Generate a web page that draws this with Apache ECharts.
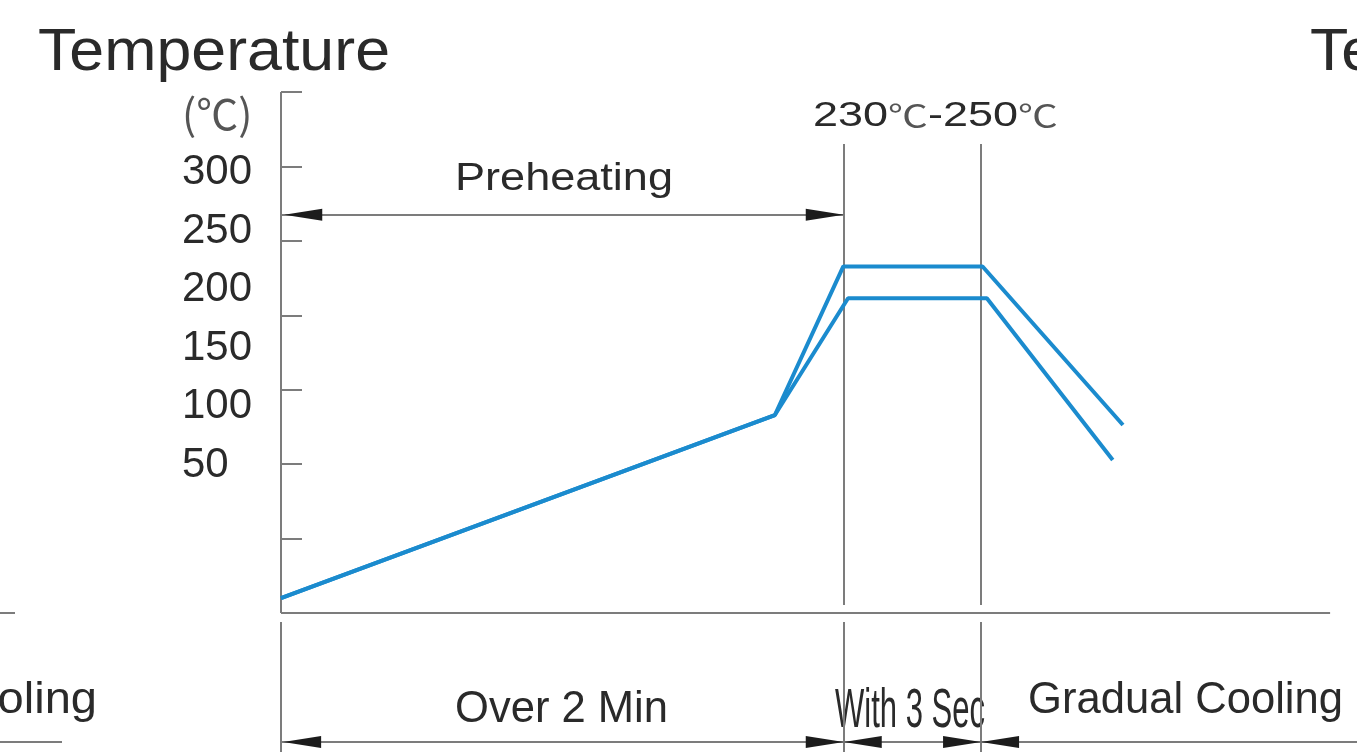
<!DOCTYPE html>
<html><head><meta charset="utf-8">
<script src="https://cdn.jsdelivr.net/npm/echarts@6/dist/echarts.min.js"></script>
<style>html,body{margin:0;padding:0;background:#fff}#c{width:1357px;height:752px}</style>
</head><body><div id="c"></div>
<script>
// ---- data (time in arbitrary units 0-100, temperature on drawn tick scale) ----
const upperTime = [0, 45.9, 52.26, 65.2, 78.25];
const upperTemp = [10, 133, 232.8, 232.8, 126.3];
const lowerTime = [0, 45.9, 52.7, 65.6, 77.3];
const lowerTemp = [10, 133, 211.4, 211.4, 102.8];
const phaseBounds = [0, 52.3, 65.06, 100];       // start, end preheat, end soldering, right edge
const axisEndTime = 97.5;
const tickValues = [50, 100, 150, 200, 250, 300, 350];
const labelValues = [50, 100, 150, 200, 250, 300, 350];
const labelTexts = ['50', '100', '150', '200', '250', '300', '(℃)'];
const guideTop = 315, guideAbove = 5.4, guideBelow = -6, bottomEdge = -93.4;
const preheatArrowTemp = 267.5;
const timeArrowTemp = -86.7;
const titleText = 'Temperature';
const peakText = '230℃-250℃';
const phaseTexts = ['Preheating', 'Over 2 Min', 'With 3 Sec', 'Gradual Cooling'];

const BLUE = '#1b8bce', GRAY = '#7c7c7c', DARK = '#1c1c1c', TXT = '#2a2a2a', THIN = '#555';
const FAM = '"Liberation Sans", Arial, sans-serif';
const CJK = '"Noto Sans CJK SC", sans-serif';

const chart = echarts.init(document.getElementById('c'), null, {renderer: 'canvas'});
const zip = (a, b) => a.map((v, i) => [v, b[i]]);

function seg(x1, y1, x2, y2, color, width) {
  return [{coord: [x1, y1], lineStyle: {color: color || GRAY, width: width || 2, type: 'solid'}},
          {coord: [x2, y2]}];
}
const AH = 38, AW = 12;
function head(x, y, dir) { // dir: 'left' | 'right' ; tip at (x,y)
  return {coord: [x, y], symbol: 'triangle', symbolSize: [AW, AH],
          symbolRotate: dir === 'left' ? 90 : -90,
          symbolOffset: dir === 'left' ? [AH / 2, 0] : [-AH / 2, 0],
          itemStyle: {color: DARK}};
}
const p = phaseBounds;
const markLines = [
  seg(0, 350, 0, 0), seg(0, guideBelow, 0, bottomEdge),
  seg(0, 0, axisEndTime, 0),
  seg(p[1], guideTop, p[1], guideAbove), seg(p[1], guideBelow, p[1], bottomEdge),
  seg(p[2], guideTop, p[2], guideAbove), seg(p[2], guideBelow, p[2], bottomEdge),
  seg(0, preheatArrowTemp, p[1], preheatArrowTemp),
  seg(0, timeArrowTemp, p[1], timeArrowTemp),
  seg(p[1], timeArrowTemp, p[2], timeArrowTemp),
  seg(p[2], timeArrowTemp, p[3], timeArrowTemp)
];
const heads = [
  head(0.3, preheatArrowTemp, 'left'), head(p[1], preheatArrowTemp, 'right'),
  head(0.2, timeArrowTemp, 'left'), head(p[1], timeArrowTemp, 'right'),
  head(p[1], timeArrowTemp, 'left'), head(p[2], timeArrowTemp, 'right'),
  head(p[2], timeArrowTemp, 'left')
];

chart.setOption({
  animation: false,
  backgroundColor: '#fff',
  grid: [
    {left: 281, right: 0, top: 92, bottom: 0},
    {left: 281, width: 10, top: 114, height: 410}
  ],
  xAxis: [
    {type: 'value', min: 0, max: 100, gridIndex: 0, show: true,
     axisLine: {show: false}, axisTick: {show: false}, axisLabel: {show: false}, splitLine: {show: false}},
    {type: 'value', min: 0, max: 1, gridIndex: 1, show: false}
  ],
  yAxis: [
    {type: 'value', min: bottomEdge, max: 350, gridIndex: 0,
     axisLine: {show: false}, splitLine: {show: false}, axisLabel: {show: false},
     axisTick: {show: true, inside: true, length: 21, customValues: tickValues,
                lineStyle: {color: GRAY, width: 2}}},
    {type: 'value', min: 0, max: 350, interval: 50, gridIndex: 1,
     axisLine: {show: false}, axisTick: {show: false}, splitLine: {show: false},
     axisLabel: {show: true, customValues: labelValues, margin: 99, align: 'left',
       fontFamily: 'Liberation Sans', fontSize: 42, color: TXT,
       rich: {u: {fontFamily: 'Noto Sans CJK SC', fontSize: 42, color: THIN}},
       formatter: v => {
         const i = labelValues.indexOf(v);
         if (i < 0) return '';
         const t = labelTexts[i];
         return /℃/.test(t) ? '{u|' + t + '}' : t;
       }}}
  ],
  series: [
    {type: 'line', name: 'upper', data: zip(upperTime, upperTemp), showSymbol: false,
     lineStyle: {color: BLUE, width: 4}, itemStyle: {color: BLUE}, z: 5,
     markLine: {silent: true, symbol: ['none', 'none'], label: {show: false},
                lineStyle: {type: 'solid', color: GRAY, width: 2}, data: markLines},
     markPoint: {silent: true, label: {show: false}, data: heads}},
    {type: 'line', name: 'lower', data: zip(lowerTime, lowerTemp), showSymbol: false,
     lineStyle: {color: BLUE, width: 4}, itemStyle: {color: BLUE}, z: 5}
  ]
});

// ---- text annotations ----
const mctx = document.createElement('canvas').getContext('2d');
function measure(text, font) { mctx.font = font; return mctx.measureText(text).width; }
function txt(text, x, yMid, size, width, align) {
  const font = size + 'px ' + FAM;
  const sx = width ? width / measure(text, font) : 1;
  return {type: 'text', x: x, y: yMid, scaleX: sx, silent: true,
          style: {text: text, font: font, fill: TXT, align: align || 'left', verticalAlign: 'middle'}};
}
// text with ℃ drawn in a thin CJK face via rich text
function degTxt(text, x, yMid, size, cSize, width) {
  const fN = size + 'px ' + FAM, fC = cSize + 'px ' + CJK;
  const parts = text.split(/(℃)/).filter(s => s.length);
  let w = 0;
  parts.forEach(s => { w += measure(s, s === '℃' ? fC : fN); });
  const rt = parts.map(s => s === '℃' ? '{c|℃}' : '{n|' + s + '}').join('');
  return {type: 'text', x: x, y: yMid, scaleX: width / w, silent: true,
          style: {text: rt, fill: TXT, align: 'left', verticalAlign: 'middle',
                  rich: {n: {font: fN, fill: TXT}, c: {font: fC, fill: THIN, padding: [0, 0, 2, 0]}}}};
}
chart.setOption({graphic: {elements: [
  txt(titleText, 38, 54, 59, 352),
  txt(titleText, 1310, 54, 59, 352),
  degTxt(peakText, 813, 116, 35, 31, 245),
  txt(phaseTexts[0], 455, 180, 38, 218),
  txt(phaseTexts[1], 455, 710, 44, 213),
  txt(phaseTexts[2], 835, 712, 56, 150),
  txt(phaseTexts[3], 1028, 701, 45, 315),
  txt(phaseTexts[3], 97, 701, 45, 340, 'right'),
  {type: 'line', silent: true, shape: {x1: 0, y1: 613, x2: 15, y2: 613}, style: {stroke: GRAY, lineWidth: 2}},
  {type: 'line', silent: true, shape: {x1: 0, y1: 742, x2: 62, y2: 742}, style: {stroke: GRAY, lineWidth: 2}}
]}});
</script></body></html>
